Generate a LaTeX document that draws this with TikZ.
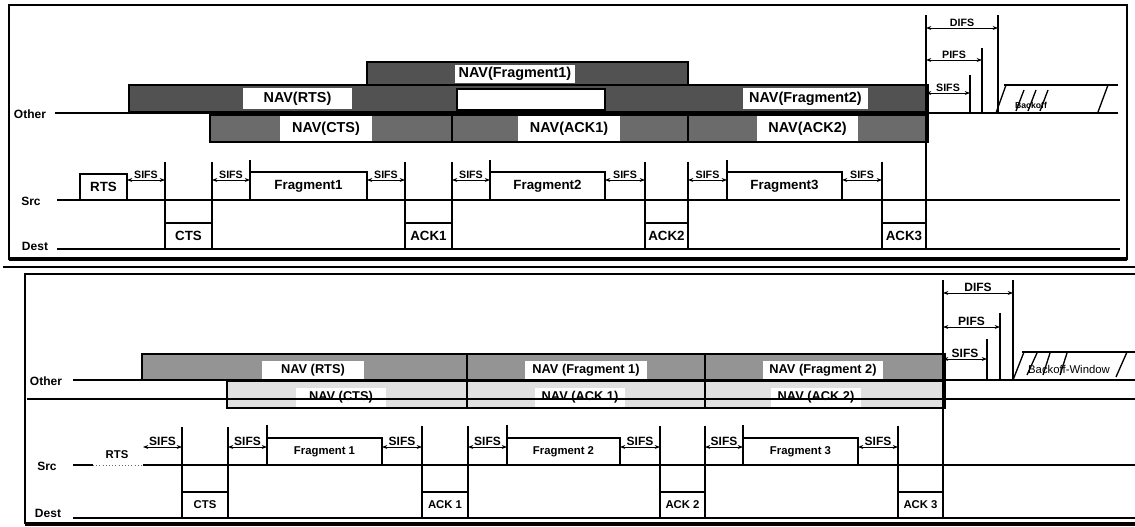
\documentclass[tikz,border=0pt]{standalone}
\usepackage{fontspec}
\setmainfont{Liberation Sans}
\usetikzlibrary{fit,arrows.meta}
\begin{document}
\begin{tikzpicture}[x=0.75pt,y=-0.75pt,
  frm/.style={line width=2pt},
  tl/.style={line width=1pt},
  vl/.style={line width=1pt},
  tfont/.style={font=\fontsize{10}{11}\selectfont\bfseries,inner sep=0pt},
  nfont/.style={font=\fontsize{10.8}{12}\selectfont\bfseries,inner sep=0pt},
  bfont/.style={font=\fontsize{8.5}{10}\selectfont\bfseries,inner sep=0pt},
  bnfont/.style={font=\fontsize{9.6}{11}\selectfont\bfseries,inner sep=0pt},
  pbox/.style={draw,line width=1pt,fill=white,inner sep=0pt},
  darkA/.style={draw,line width=1pt,fill=black!68,inner sep=0pt},
  darkC/.style={draw,line width=1pt,fill=black!58,inner sep=0pt},
  darkD/.style={draw,line width=1pt,fill=black!42,inner sep=0pt},
  paleE/.style={draw,line width=1pt,fill=black!12,inner sep=0pt},
  wbox/.style={fill=white,inner sep=0pt},
  sifs/.style={{Stealth[length=4pt,width=3pt]}-{Stealth[length=4pt,width=3pt]},line width=0.7pt},
  stlabel/.style={font=\fontsize{8}{9}\selectfont\bfseries,inner sep=1pt},
  sblabel/.style={font=\fontsize{9}{10}\selectfont\bfseries,inner sep=1pt},
  rowlbl/.style={font=\fontsize{9}{10}\selectfont\bfseries,inner sep=0pt}
]
\useasboundingbox (0,0) rectangle (1135,527);
\fill[white] (0,0) rectangle (1135,527);

%================ TOP PANEL ================
\draw[frm] (9,5) rectangle (1127,259);
\draw[line width=3pt] (9,259) -- (1127,259);
\draw[line width=1.5pt] (3,267) -- (1135,267);

% NAV bars
\node[darkA, fit={(367,62)(688,85)}] (barA) {};
\node[wbox, fit={(455,65)(575,83)}, label={[nfont]center:NAV(Fragment1)}] (navF1) {};
\node[darkA, fit={(129,85)(928,112)}] (barB) {};
\node[wbox, fit={(243,88)(352,109)}, label={[nfont]center:NAV(RTS)}] (navRTS) {};
\node[pbox, line width=0.8pt, fit={(457,89)(605,110)}] (gapB) {};
\node[wbox, fit={(743,88)(868,109)}, label={[nfont]center:NAV(Fragment2)}] (navF2) {};
\node[darkC, fit={(210,115)(928,142)}] (barC) {};
\node[wbox, fit={(280,116)(372,141)}, label={[nfont]center:NAV(CTS)}] (navCTS) {};
\node[wbox, fit={(518,116)(620,141)}, label={[nfont]center:NAV(ACK1)}] (navACK1) {};
\node[wbox, fit={(757,116)(858,141)}, label={[nfont]center:NAV(ACK2)}] (navACK2) {};
\draw[vl] (452,115) -- (452,142) (688,115) -- (688,142);

% timelines
\node[rowlbl] (tother) at (30,114) {Other};
\node[rowlbl] (tsrc) at (31,201) {Src};
\node[rowlbl] (tdest) at (35,246) {Dest};
\draw[tl] (55,113) -- (1118,113);
\draw[tl] (57,200) -- (1120,200);
\draw[tl] (57,249) -- (1120,249);

% verticals
\draw[vl] (165,162) -- (165,249) (212,162) -- (212,249)
          (250,160) -- (250,172)
          (405,162) -- (405,249) (452,162) -- (452,249)
          (490,160) -- (490,172)
          (645,162) -- (645,249) (688,162) -- (688,249)
          (727,160) -- (727,172)
          (882,162) -- (882,249)
          (926,15) -- (926,249)
          (998,15) -- (998,113) (982,48) -- (982,113) (970,75) -- (970,113);

% frames on Src / Dest
\node[pbox, fit={(80,174)(127,200)}, label={[tfont]center:RTS}] (trts) {};
\node[pbox, fit={(165,223)(212,249)}, label={[tfont]center:CTS}] (tcts) {};
\node[pbox, fit={(250,172)(367,200)}, label={[tfont]center:Fragment1}] (tf1) {};
\node[pbox, fit={(405,223)(452,249)}, label={[tfont]center:ACK1}] (tack1) {};
\node[pbox, fit={(490,172)(605,200)}, label={[tfont]center:Fragment2}] (tf2) {};
\node[pbox, fit={(645,223)(688,249)}, label={[tfont]center:ACK2}] (tack2) {};
\node[pbox, fit={(727,172)(842,200)}, label={[tfont]center:Fragment3}] (tf3) {};
\node[pbox, fit={(882,223)(926,249)}, label={[tfont]center:ACK3}] (tack3) {};

% SIFS arrows
\foreach \a/\b [count=\i] in {127/165,212/250,367/405,452/490,605/645,688/727,842/882}{
  \coordinate (ts\i a) at (\a,180);
  \coordinate (ts\i b) at (\b,180);
  \draw[sifs] (ts\i a) -- node[above,stlabel] {SIFS} (ts\i b);
}
\coordinate (tdifa) at (926,28); \coordinate (tdifb) at (998,28);
\draw[sifs] (tdifa) -- node[above,stlabel] {DIFS} (tdifb);
\coordinate (tpifa) at (926,60); \coordinate (tpifb) at (982,60);
\draw[sifs] (tpifa) -- node[above,stlabel] {PIFS} (tpifb);
\coordinate (tsifa) at (926,93); \coordinate (tsifb) at (970,93);
\draw[sifs] (tsifa) -- node[above,stlabel] {SIFS} (tsifb);

% backoff
\draw[tl] (1004,85) -- (1118,85);
\draw[vl] (996,113) -- (1006,85) (1016,111) -- (1024,90) (1028,111) -- (1036,90)
          (1040,111) -- (1048,90) (1098,112) -- (1108,85);
\node[font=\fontsize{6.5}{7}\selectfont\bfseries,inner sep=0pt] (tbo) at (1031,105) {Backoff};

%================ BOTTOM PANEL ================
\draw[frm] (1136,274) -- (25,274) -- (25,524);
\draw[line width=3pt] (25,524) -- (1136,524);

\node[darkD, fit={(142,354)(945,380)}] (barD) {};
\node[wbox, fit={(262,361)(364,380)}, label={[bnfont]center:NAV (RTS)}] (bnavRTS) {};
\node[wbox, fit={(525,361)(647,380)}, label={[bnfont]center:NAV (Fragment 1)}] (bnavF1) {};
\node[wbox, fit={(763,361)(883,380)}, label={[bnfont]center:NAV (Fragment 2)}] (bnavF2) {};
\node[paleE, fit={(227,381)(945,408)}] (barE) {};
\node[wbox, fit={(296,388)(386,407)}, label={[bnfont]center:NAV (CTS)}] (bnavCTS) {};
\node[wbox, fit={(535,388)(625,407)}, label={[bnfont]center:NAV (ACK 1)}] (bnavACK1) {};
\node[wbox, fit={(771,388)(861,407)}, label={[bnfont]center:NAV (ACK 2)}] (bnavACK2) {};
\draw[vl] (467,354) -- (467,408) (705,354) -- (705,408);
\draw[tl] (27,399) -- (1135,399);

\node[rowlbl] (bother) at (46,381) {Other};
\node[rowlbl] (bsrc) at (47,466) {Src};
\node[rowlbl] (bdest) at (48,513) {Dest};
\draw[tl] (73,380) -- (1135,380);
\draw[tl] (73,465) -- (93,465) (143,465) -- (1135,465);
\draw[line width=0.4pt, black!60, dotted] (93,465) -- (143,465);
\draw[tl] (73,518) -- (1135,518);
\node[bfont] (brts) at (117,455) {RTS};

\draw[vl] (182,427) -- (182,518) (228,427) -- (228,518)
          (267,425) -- (267,438)
          (422,426) -- (422,518) (468,426) -- (468,518)
          (507,425) -- (507,438)
          (660,426) -- (660,518) (705,426) -- (705,518)
          (743,425) -- (743,438)
          (898,426) -- (898,518)
          (943,280) -- (943,518)
          (1013,280) -- (1013,380) (1000,313) -- (1000,380) (987,339) -- (987,380);

\node[pbox, fit={(182,492)(228,518)}, label={[bfont]center:CTS}] (bcts) {};
\node[pbox, fit={(267,438)(382,465)}, label={[bfont]center:Fragment 1}] (bf1) {};
\node[pbox, fit={(422,492)(468,518)}, label={[bfont]center:ACK 1}] (back1) {};
\node[pbox, fit={(507,438)(620,465)}, label={[bfont]center:Fragment 2}] (bf2) {};
\node[pbox, fit={(660,492)(705,518)}, label={[bfont]center:ACK 2}] (back2) {};
\node[pbox, fit={(743,438)(858,465)}, label={[bfont]center:Fragment 3}] (bf3) {};
\node[pbox, fit={(898,492)(943,518)}, label={[bfont]center:ACK 3}] (back3) {};

\foreach \a/\b [count=\i] in {143/182,228/267,382/422,468/507,620/660,705/743,858/898}{
  \coordinate (bs\i a) at (\a,447);
  \coordinate (bs\i b) at (\b,447);
  \draw[sifs] (bs\i a) -- node[above,sblabel] {SIFS} (bs\i b);
}
\coordinate (bdifa) at (943,293); \coordinate (bdifb) at (1013,293);
\draw[sifs] (bdifa) -- node[above,sblabel] {DIFS} (bdifb);
\coordinate (bpifa) at (943,327); \coordinate (bpifb) at (1000,327);
\draw[sifs] (bpifa) -- node[above,sblabel] {PIFS} (bpifb);
\coordinate (bsifa) at (943,359); \coordinate (bsifb) at (987,359);
\draw[sifs] (bsifa) -- node[above,sblabel] {SIFS} (bsifb);

\draw[tl] (1022,352) -- (1135,352);
\draw[vl] (1013,380) -- (1024,352) (1027,375) -- (1037,353) (1043,375) -- (1050,353)
          (1060,375) -- (1067,353) (1116,377) -- (1127,352);
\node[font=\fontsize{8.5}{9}\selectfont,inner sep=0pt] (bbo) at (1069,369) {Backoff-Window};
\end{tikzpicture}
\end{document}
